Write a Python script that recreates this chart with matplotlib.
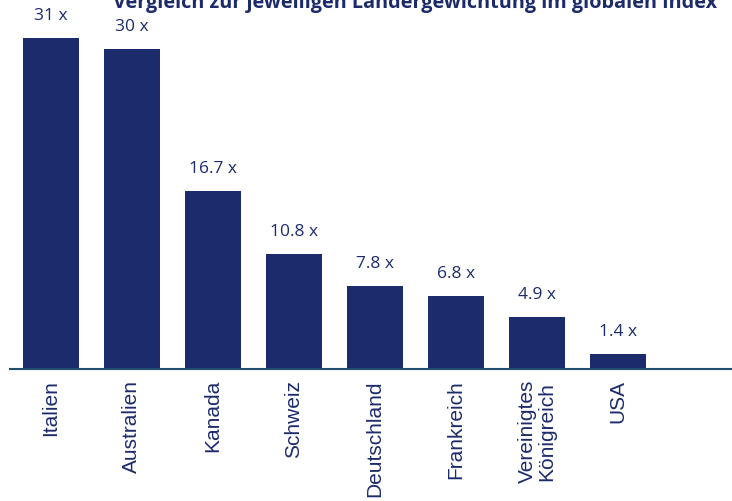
import matplotlib
matplotlib.use("Agg")
import matplotlib.pyplot as plt

categories = ["Italien", "Australien", "Kanada", "Schweiz", "Deutschland",
              "Frankreich", "Vereinigtes\nKönigreich", "USA"]
values = [31, 30, 16.7, 10.8, 7.8, 6.8, 4.9, 1.4]
value_labels = ["31 x", "30 x", "16.7 x", "10.8 x", "7.8 x", "6.8 x", "4.9 x", "1.4 x"]
title = "Vergleich zur jeweiligen Ländergewichtung im globalen Index"

navy = "#1c2b6b"
fig = plt.figure(figsize=(7.32, 5.01), dpi=100)
ax = fig.add_axes([10/732, 132/501, 722/732, 369/501])
x = list(range(len(categories)))
ax.bar(x, values, width=56/81, color=navy, zorder=2)
for xi, v, lab in zip(x, values, value_labels):
    ax.annotate(lab, (xi, v), xytext=(0, 16), textcoords="offset points",
                ha="center", va="center", fontsize=12.5, color=navy,
                family=["Open Sans", "DejaVu Sans"])
ax.set_xlim(-0.506, 8.41)
ax.set_ylim(0, 34.6)
for s in ["top", "right", "left"]:
    ax.spines[s].set_visible(False)
ax.spines["bottom"].set_color("#1f4e6e")
ax.spines["bottom"].set_linewidth(1.5)
ax.set_yticks([])
ax.set_xticks(x)
ax.set_xticklabels(categories, rotation=90, va="top", ha="center",
                   fontsize=15, color=navy, family="Liberation Sans",
                   linespacing=1.0)
ax.tick_params(axis="x", length=0, pad=8)
fig.text(113/732, 1 - 8/501, title, ha="left", va="baseline", fontsize=14.3,
         fontweight="bold", color=navy, family="Open Sans")
fig.savefig("out.png", dpi=100)
